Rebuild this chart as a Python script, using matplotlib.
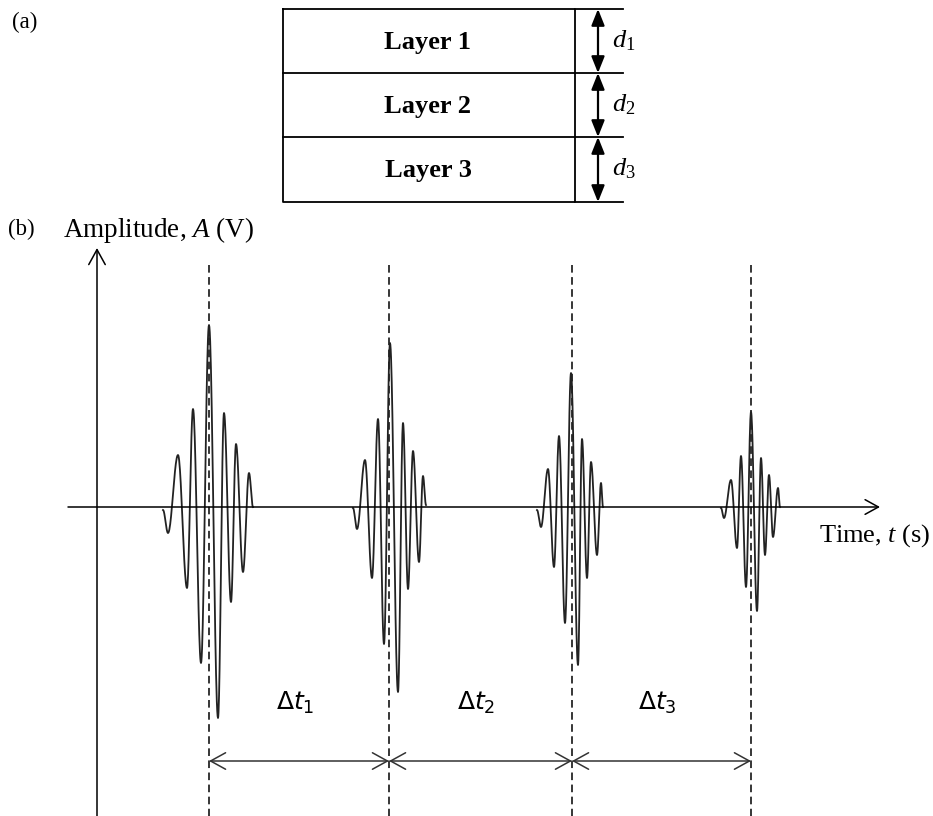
import numpy as np
import matplotlib
matplotlib.use('Agg')
import matplotlib.pyplot as plt

plt.rcParams['font.family'] = ['Liberation Serif', 'DejaVu Serif']
plt.rcParams['mathtext.fontset'] = 'custom'
plt.rcParams['mathtext.rm'] = 'Liberation Serif'
plt.rcParams['mathtext.it'] = 'Liberation Serif:italic'
plt.rcParams['lines.scale_dashes'] = False

# ---------------- data ----------------
layer_names = ['Layer 1', 'Layer 2', 'Layer 3']
thickness_labels = [r'$d_{\mathit{1}}$', r'$d_{\mathit{2}}$', r'$d_{\mathit{3}}$']
layer_bounds = [498, 434, 370, 305]          # interface heights (diagram units)

arrival_times = [209, 389, 572, 751]           # echo arrival times (arb. units)
delta_labels = [r'$\Delta t_1$', r'$\Delta t_2$', r'$\Delta t_3$']

# extrema of each echo (time, amplitude)
p1_t = [163, 168, 178, 187, 193, 201, 209, 218, 224, 231, 236, 243, 249, 253]
p1_a = [-3, -26, 52, -81, 98, -156, 182, -211, 94, -95, 63, -65, 34, 0]
p2_t = [353, 357, 365, 372, 378, 384, 390, 398, 403, 408, 413, 419, 423, 426]
p2_a = [-1, -22, 47, -71, 88, -137, 164, -185, 84, -82, 56, -55, 31, 2]
p3_t = [537, 541, 548, 554, 559, 565, 571, 578, 582, 587, 591, 597, 601, 603]
p3_a = [-3, -20, 38, -60, 71, -116, 134, -158, 68, -71, 45, -48, 24, 0]
p4_t = [721, 724, 731, 737, 741, 746, 751, 757, 761, 765, 769, 773, 778, 780]
p4_a = [-1, -11, 27, -41, 51, -80, 95, -104, 49, -48, 32, -30, 19, 0]
packets = [(p1_t, p1_a), (p2_t, p2_a), (p3_t, p3_a), (p4_t, p4_a)]

# ---------------- figure ----------------
fig = plt.figure(figsize=(9.33, 8.16), dpi=100)
ax = fig.add_axes([0, 0, 1, 1])
ax.set_xlim(0, 933)
ax.set_ylim(-309, 507)
ax.axis('off')

# (a) layer diagram
box_l, box_r = 283, 575
ax.plot([box_l, box_r, box_r, box_l, box_l],
        [layer_bounds[0], layer_bounds[0], layer_bounds[-1], layer_bounds[-1], layer_bounds[0]],
        color='black', lw=1.3)
for yb in layer_bounds:
    ax.plot([box_l if yb not in (layer_bounds[0], layer_bounds[-1]) else box_r, 623], [yb, yb],
            color='black', lw=1.3)
for i, name in enumerate(layer_names):
    top, bot = layer_bounds[i], layer_bounds[i + 1]
    ax.text(428, top - 40, name, ha='center', va='baseline', fontsize=19, fontweight='bold')
    ax.annotate('', xy=(598, bot), xytext=(598, top),
                arrowprops=dict(arrowstyle='<|-|>,head_length=0.45,head_width=0.18',
                                mutation_scale=22, color='black', lw=1.6,
                                shrinkA=0, shrinkB=0))
    ax.text(612, top - 38, thickness_labels[i], ha='left', va='baseline', fontsize=19)

ax.text(12, 479, '(a)', ha='left', va='baseline', fontsize=16.5)
ax.text(8, 272, '(b)', ha='left', va='baseline', fontsize=16.5)

# (b) axes
ax.annotate('', xy=(97, 259), xytext=(97, -309),
            arrowprops=dict(arrowstyle='->,head_length=0.4,head_width=0.22',
                            mutation_scale=27, color='black', lw=1.1,
                            shrinkA=0, shrinkB=0))
ax.annotate('', xy=(880, 0), xytext=(68, 0),
            arrowprops=dict(arrowstyle='->,head_length=0.4,head_width=0.22',
                            mutation_scale=24, color='black', lw=1.1,
                            shrinkA=0, shrinkB=0))
ax.text(63, 270, r'Amplitude, $\mathit{A}$ (V)', ha='left', va='baseline', fontsize=19.5)
ax.text(819, -35, r'Time, $\mathit{t}$ (s)', ha='left', va='baseline', fontsize=19)

# dashed arrival markers
for t0 in arrival_times:
    ax.plot([t0, t0], [242, -309], color='black', lw=1.1, dashes=(5.5, 3.2))

# echoes: join successive extrema with half-cosine segments
for tt, aa in packets:
    xs, ys = [], []
    for k in range(len(tt) - 1):
        s = np.linspace(0, 1, 24)
        xs.append(tt[k] + (tt[k + 1] - tt[k]) * s)
        ys.append(aa[k] + (aa[k + 1] - aa[k]) * (1 - np.cos(np.pi * s)) / 2)
    ax.plot(np.concatenate(xs), np.concatenate(ys), color='#222222', lw=1.3)

# time-of-flight arrows
for i in range(len(arrival_times) - 1):
    ta, tb = arrival_times[i], arrival_times[i + 1]
    ax.annotate('', xy=(tb, -254), xytext=(ta, -254),
                arrowprops=dict(arrowstyle='<->,head_length=0.4,head_width=0.22',
                                mutation_scale=27, color='#333333', lw=1.1,
                                shrinkA=0, shrinkB=0))
    ax.text((ta + tb) / 2 - 4, -196, delta_labels[i], ha='center', va='center',
            fontsize=18, math_fontfamily='dejavusans')

fig.savefig('out.png', dpi=100)
